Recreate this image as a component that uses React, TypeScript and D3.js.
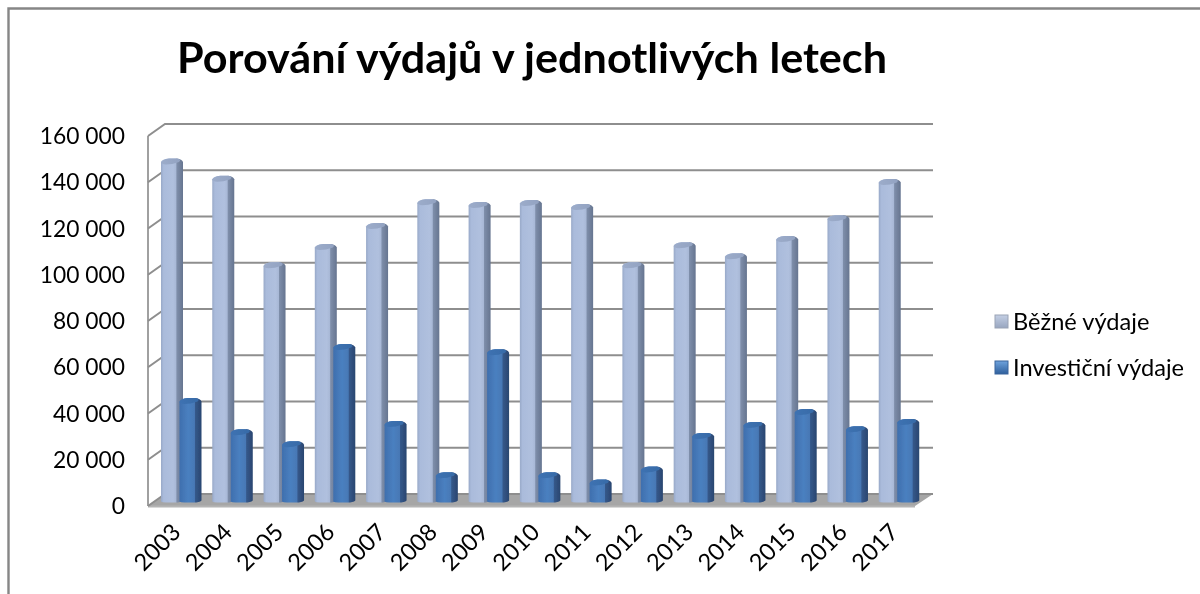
import React from "react";
import * as d3 from "d3";

const years = ["2003","2004","2005","2006","2007","2008","2009","2010","2011","2012","2013","2014","2015","2016","2017"];
const bezneVydaje = [146200,138700,101300,109200,118300,128500,127400,128200,126500,101300,110000,105200,112700,121600,137300];
const investicniVydaje = [42600,29100,23900,65900,32600,10500,63700,10500,7400,13000,27500,32200,37800,30400,33500];
const yTicks = [0,20000,40000,60000,80000,100000,120000,140000,160000];
const seriesNames = ["Běžné výdaje","Investiční výdaje"];
const chartTitle = "Porování výdajů v jednotlivých letech";

const W = 1200, H = 594;
const FONT = "Lato, Carlito, 'Open Sans', sans-serif";
const fmt = (v: number) => String(v).replace(/\B(?=(\d{3})+$)/g, " ");

// back wall, front wall and bar-plane vertical scales
const yBack = d3.scaleLinear().domain([0,160000]).range([494,124]);
const yFront = d3.scaleLinear().domain([0,160000]).range([506,136]);
const yBar = d3.scaleLinear().domain([0,160000]).range([500,130]);
const xBand = d3.scaleBand<string>().domain(years).range([148,917]);
const DX = 17; // depth offset of back wall
const BW = 22; // bar width
const ST = 7; // dark side strip

function Bar({x, top, base, id}: {x:number; top:number; base:number; id:string}) {
  const r = 3.5;
  const shape = `M${x},${base} L${x},${top} Q${x+1},${top-3} ${x+8},${top-3.5} L${x+BW-6},${top-3.5} Q${x+BW-1},${top-3} ${x+BW},${top} L${x+BW},${base-1} Q${x+BW-2},${base+1} ${x+BW-8},${base+1} L${x+5},${base+1} Q${x+1},${base+1} ${x},${base} Z`;
  const cap = `M${x},${top+1} Q${x+1},${top-3} ${x+8},${top-3.5} L${x+BW-6},${top-3.5} Q${x+BW-1},${top-3} ${x+BW-ST+3},${top} Q${x+BW-ST-4},${top+r-1} ${x+BW-ST-10},${top+r-1} Q${x+3},${top+r-1} ${x},${top+1} Z`;
  return <g>
    <path d={shape} fill={`url(#${id}-body)`} />
    <path d={cap} fill={`url(#${id}-cap)`} />
  </g>;
}

export default function App() {
  const left = xBand.range()[0];
  const right = 915;
  return (
    <svg width={W} height={H} viewBox={`0 0 ${W} ${H}`} style={{position:"absolute",left:0,top:0,background:"#fff"}}>
      <defs>
        <filter id="soft" x="0" y="0" width="100%" height="100%" filterUnits="userSpaceOnUse" primitiveUnits="userSpaceOnUse">
          <feGaussianBlur stdDeviation="0.4"/>
        </filter>
        <linearGradient id="s0-body" x1="0" x2="1" y1="0" y2="0">
          <stop offset="0" stopColor="#98a9c8"/>
          <stop offset="0.12" stopColor="#aabbdb"/>
          <stop offset="0.55" stopColor="#b0c0de"/>
          <stop offset="0.68" stopColor="#a8b8d6"/>
          <stop offset="0.72" stopColor="#7e8eaa"/>
          <stop offset="1" stopColor="#667590"/>
        </linearGradient>
        <linearGradient id="s1-body" x1="0" x2="1" y1="0" y2="0">
          <stop offset="0" stopColor="#3f6fae"/>
          <stop offset="0.4" stopColor="#4a80c0"/>
          <stop offset="0.68" stopColor="#4778b5"/>
          <stop offset="0.72" stopColor="#35588a"/>
          <stop offset="1" stopColor="#2a4670"/>
        </linearGradient>
        <linearGradient id="s0-cap" x1="0" x2="1" y1="0" y2="0">
          <stop offset="0" stopColor="#9cacca"/><stop offset="1" stopColor="#93a3c2"/>
        </linearGradient>
        <linearGradient id="s1-cap" x1="0" x2="1" y1="0" y2="0">
          <stop offset="0" stopColor="#3d72b2"/><stop offset="1" stopColor="#386ba8"/>
        </linearGradient>
        <linearGradient id="lg0" x1="0" x2="0" y1="0" y2="1">
          <stop offset="0" stopColor="#c4cfe4"/><stop offset="1" stopColor="#98a6c0"/>
        </linearGradient>
        <linearGradient id="lg1" x1="0" x2="0" y1="0" y2="1">
          <stop offset="0" stopColor="#6ea3dd"/><stop offset="1" stopColor="#2f5f9c"/>
        </linearGradient>
      </defs>

      <g filter="url(#soft)">
      {/* outer frame */}
      <path d={`M8.5,${H} L8.5,8.5 L${W},8.5`} fill="none" stroke="#868686" strokeWidth={2.4}/>

      <text x={532} y={73} textAnchor="middle" fontFamily={FONT} fontWeight={700} fontSize={42} fill="#000" textLength={710} lengthAdjust="spacingAndGlyphs">{chartTitle}</text>

      {/* floor */}
      <path d={`M${left},${yFront(0)} L${left+DX},${yBack(0)} L${right+DX+1},${yBack(0)} L${right},${yFront(0)} Z`} fill="#a6a6a6"/>
      <path d={`M${left},${yFront(0)+0.5} L${right},${yFront(0)+0.5}`} stroke="#b4b4b4" strokeWidth={2}/>

      {/* walls and gridlines */}
      <g fill="none" stroke="#8e8e8e" strokeWidth={2}>
        <line x1={left} x2={left} y1={yFront(0)} y2={yFront(160000)} stroke="#a0a0a0"/>
        {yTicks.map(t => (
          <path key={t} d={`M${left},${yFront(t)} L${left+DX},${yBack(t)} L${right+DX+1},${yBack(t)}`} />
        ))}
      </g>

      {/* bars */}
      {years.map((yr,i) => {
        const x0 = xBand(yr)! + 13;
        return <g key={yr}>
          <Bar x={x0} top={yBar(bezneVydaje[i])} base={yBar(0)+1.5} id="s0"/>
          <Bar x={x0+18.5} top={yBar(investicniVydaje[i])} base={yBar(0)+1.5} id="s1"/>
        </g>;
      })}

      {/* y tick labels */}
      <g fontFamily={FONT} fontSize={22.8} fill="#000" textAnchor="end">
        {yTicks.map(t => <text key={t} x={125} y={yFront(t)+8}>{fmt(t)}</text>)}
      </g>

      {/* x tick labels */}
      <g fontFamily={FONT} fontSize={23.5} fill="#000" textAnchor="end">
        {years.map(yr => {
          const cx = xBand(yr)! + xBand.bandwidth()/2 - 3;
          return <text key={yr} transform={`translate(${cx},522) rotate(-45)`} dy="0.7em">{yr}</text>;
        })}
      </g>

      {/* legend */}
      <g fontFamily={FONT} fontSize={23.6} fill="#000">
        {seriesNames.map((n,i) => {
          const y = 322 + i*46;
          return <g key={n}>
            <rect x={995} y={y-7} width={13} height={13} fill={`url(#lg${i})`} stroke={i===0?"#9aa3b5":"#3a659c"} strokeWidth={1}/>
            <text x={1013} y={y+8}>{n}</text>
          </g>;
        })}
      </g>
      </g>
    </svg>
  );
}
